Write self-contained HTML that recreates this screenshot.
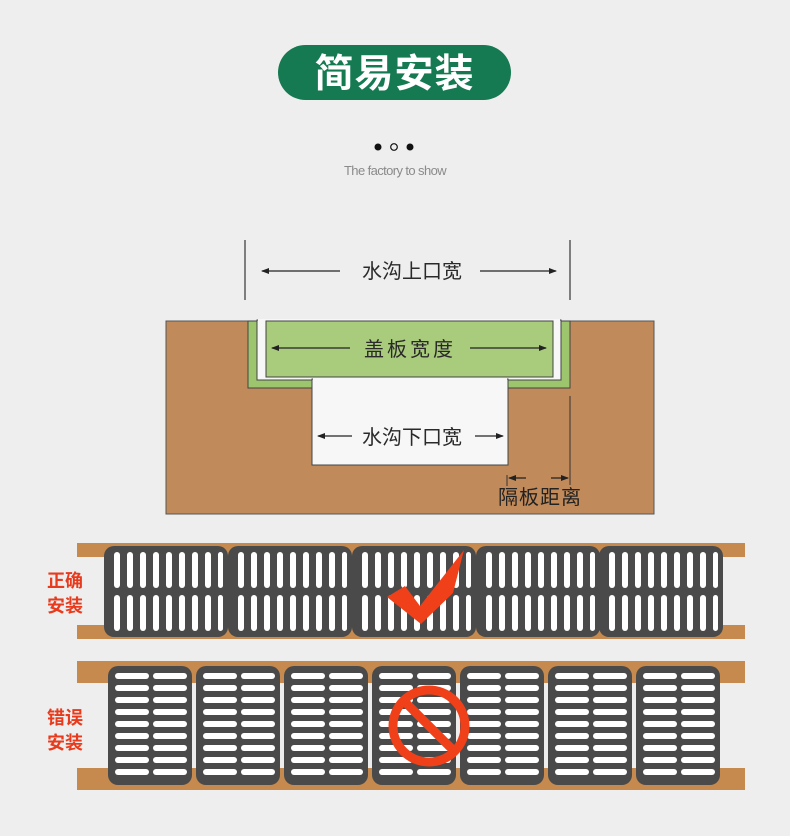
<!DOCTYPE html>
<html><head><meta charset="utf-8"><style>
html,body{margin:0;padding:0;background:#eeeeee;}
svg{display:block;}
text{font-family:"Liberation Sans","Noto Sans CJK SC",sans-serif;}
</style></head><body>
<svg width="790" height="836" viewBox="0 0 790 836" xmlns="http://www.w3.org/2000/svg">
<defs>
<marker id="ah" markerWidth="8" markerHeight="8" refX="7" refY="4" orient="auto" markerUnits="userSpaceOnUse"><path d="M0,1 L8,4 L0,7 Z" fill="#222"/></marker>
<g id="gv">
<rect x="0" y="0" width="124" height="91" rx="10" fill="#4a4a4a"/>
<g fill="#fff">
<rect x="10" y="6" width="6" height="36" rx="3"/><rect x="23" y="6" width="6" height="36" rx="3"/><rect x="36" y="6" width="6" height="36" rx="3"/><rect x="49" y="6" width="6" height="36" rx="3"/><rect x="62" y="6" width="6" height="36" rx="3"/><rect x="75" y="6" width="6" height="36" rx="3"/><rect x="88" y="6" width="6" height="36" rx="3"/><rect x="101" y="6" width="6" height="36" rx="3"/><rect x="114" y="6" width="5" height="36" rx="2.5"/>
<rect x="10" y="49" width="6" height="36" rx="3"/><rect x="23" y="49" width="6" height="36" rx="3"/><rect x="36" y="49" width="6" height="36" rx="3"/><rect x="49" y="49" width="6" height="36" rx="3"/><rect x="62" y="49" width="6" height="36" rx="3"/><rect x="75" y="49" width="6" height="36" rx="3"/><rect x="88" y="49" width="6" height="36" rx="3"/><rect x="101" y="49" width="6" height="36" rx="3"/><rect x="114" y="49" width="5" height="36" rx="2.5"/>
</g></g>
<g id="gh">
<rect x="0" y="0" width="84" height="119" rx="10" fill="#4a4a4a"/>
<g fill="#fff">
<rect x="7" y="7" width="34" height="6" rx="3"/><rect x="45" y="7" width="34" height="6" rx="3"/>
<rect x="7" y="19" width="34" height="6" rx="3"/><rect x="45" y="19" width="34" height="6" rx="3"/>
<rect x="7" y="31" width="34" height="6" rx="3"/><rect x="45" y="31" width="34" height="6" rx="3"/>
<rect x="7" y="43" width="34" height="6" rx="3"/><rect x="45" y="43" width="34" height="6" rx="3"/>
<rect x="7" y="55" width="34" height="6" rx="3"/><rect x="45" y="55" width="34" height="6" rx="3"/>
<rect x="7" y="67" width="34" height="6" rx="3"/><rect x="45" y="67" width="34" height="6" rx="3"/>
<rect x="7" y="79" width="34" height="6" rx="3"/><rect x="45" y="79" width="34" height="6" rx="3"/>
<rect x="7" y="91" width="34" height="6" rx="3"/><rect x="45" y="91" width="34" height="6" rx="3"/>
<rect x="7" y="103" width="34" height="6" rx="3"/><rect x="45" y="103" width="34" height="6" rx="3"/>
</g></g>
</defs>

<rect x="278" y="45" width="233" height="55" rx="27.5" fill="#157a52"/>
<text x="394.5" y="87" font-size="39" font-weight="bold" fill="#fff" text-anchor="middle" letter-spacing="1">简易安装</text>
<circle cx="378" cy="147" r="3.5" fill="#111"/>
<circle cx="394" cy="147" r="3.3" fill="none" stroke="#111" stroke-width="1.2"/>
<circle cx="410" cy="147" r="3.5" fill="#111"/>
<text x="395" y="175" font-size="13" fill="#8a8a8a" text-anchor="middle" letter-spacing="-0.6">The factory to show</text>

<line x1="245" y1="240" x2="245" y2="300" stroke="#333" stroke-width="1.2"/>
<line x1="570" y1="240" x2="570" y2="300" stroke="#333" stroke-width="1.2"/>
<line x1="340" y1="271" x2="262" y2="271" stroke="#222" stroke-width="1.2" marker-end="url(#ah)"/>
<line x1="480" y1="271" x2="556" y2="271" stroke="#222" stroke-width="1.2" marker-end="url(#ah)"/>
<text x="412" y="278" font-size="20" fill="#2a2a2a" text-anchor="middle">水沟上口宽</text>

<rect x="166" y="321" width="488" height="193" fill="#c08a5a" stroke="#555" stroke-width="1"/>
<rect x="248" y="321" width="322" height="67" fill="#9cc56e" stroke="#444" stroke-width="1"/>
<rect x="257" y="320" width="304" height="60" fill="#f7f7f7" stroke="#444" stroke-width="1"/>
<rect x="312" y="379" width="196" height="86" fill="#f7f7f7" stroke="#444" stroke-width="1"/>
<rect x="313" y="376" width="194" height="6" fill="#f7f7f7"/>
<rect x="258" y="319" width="302" height="3" fill="#f7f7f7"/>
<rect x="266" y="321" width="287" height="56" fill="#a9cb7c" stroke="#444" stroke-width="1"/>
<line x1="350" y1="348" x2="272" y2="348" stroke="#222" stroke-width="1.2" marker-end="url(#ah)"/>
<line x1="470" y1="348" x2="546" y2="348" stroke="#222" stroke-width="1.2" marker-end="url(#ah)"/>
<text x="410" y="356" font-size="20" fill="#2a2a2a" text-anchor="middle" letter-spacing="3">盖板宽度</text>
<line x1="352" y1="436" x2="318" y2="436" stroke="#222" stroke-width="1.2" marker-end="url(#ah)"/>
<line x1="475" y1="436" x2="503" y2="436" stroke="#222" stroke-width="1.2" marker-end="url(#ah)"/>
<text x="412" y="444" font-size="20" fill="#2a2a2a" text-anchor="middle">水沟下口宽</text>
<line x1="570" y1="396" x2="570" y2="485" stroke="#333" stroke-width="1"/>
<line x1="507" y1="475" x2="507" y2="486" stroke="#333" stroke-width="1"/>
<line x1="526" y1="478" x2="509" y2="478" stroke="#222" stroke-width="1.2" marker-end="url(#ah)"/>
<line x1="551" y1="478" x2="568" y2="478" stroke="#222" stroke-width="1.2" marker-end="url(#ah)"/>
<text x="540" y="504" font-size="20" fill="#222" text-anchor="middle" letter-spacing="1">隔板距离</text>

<rect x="77" y="543" width="668" height="14" fill="#c68a4e"/>
<rect x="77" y="625" width="668" height="14" fill="#c68a4e"/>
<use href="#gv" x="104" y="546"/>
<use href="#gv" x="228" y="546"/>
<use href="#gv" x="352" y="546"/>
<use href="#gv" x="476" y="546"/>
<use href="#gv" x="599" y="546"/>
<polygon points="387,597 405,586 420,606 464,550 453,593 421,624" fill="#f0401a"/>
<text x="65" y="587" font-size="18" fill="#e83a1c" text-anchor="middle" font-weight="bold">正确</text>
<text x="65" y="612" font-size="18" fill="#e83a1c" text-anchor="middle" font-weight="bold">安装</text>

<rect x="77" y="661" width="668" height="22" fill="#c68a4e"/>
<rect x="77" y="768" width="668" height="22" fill="#c68a4e"/>
<use href="#gh" x="108" y="666"/>
<use href="#gh" x="196" y="666"/>
<use href="#gh" x="284" y="666"/>
<use href="#gh" x="372" y="666"/>
<use href="#gh" x="460" y="666"/>
<use href="#gh" x="548" y="666"/>
<use href="#gh" x="636" y="666"/>
<circle cx="429" cy="726" r="36" fill="none" stroke="#f0401a" stroke-width="9"/>
<line x1="404" y1="701" x2="454" y2="751" stroke="#f0401a" stroke-width="9"/>
<text x="65" y="724" font-size="18" fill="#e83a1c" text-anchor="middle" font-weight="bold">错误</text>
<text x="65" y="749" font-size="18" fill="#e83a1c" text-anchor="middle" font-weight="bold">安装</text>
</svg>
</body></html>
